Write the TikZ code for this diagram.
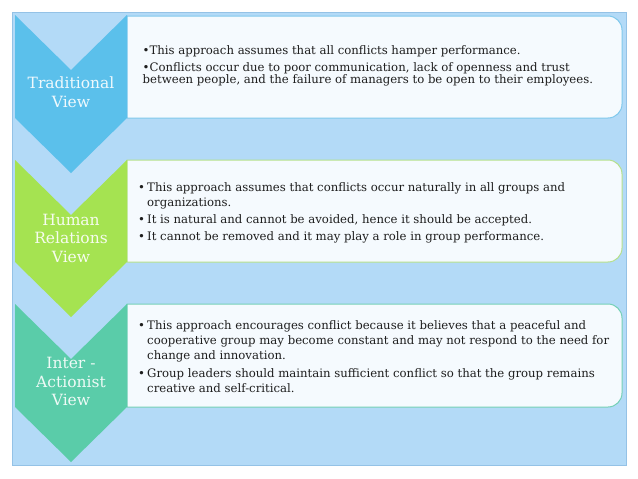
\documentclass[tikz,border=0pt]{standalone}
\usepackage{fontspec}
\setmainfont{DejaVu Serif}
\definecolor{panel}{HTML}{B3DAF7}
\definecolor{panelline}{HTML}{94C2E6}
\definecolor{cblue}{HTML}{5BC0EB}
\definecolor{cgreen}{HTML}{A5E351}
\definecolor{cteal}{HTML}{5ACCA9}
\definecolor{bblue}{HTML}{7FC8EC}
\definecolor{bgreen}{HTML}{B5E08C}
\definecolor{bteal}{HTML}{74D0B6}
\definecolor{boxfill}{HTML}{F5FAFE}
\definecolor{txt}{HTML}{1E1E1E}
\tikzset{
  chev/.style={fill=#1, draw=none},
  tbox/.style={fill=boxfill, draw=#1, line width=1pt},
  lab/.style={text=white!90!#1, font=\fontsize{15.5}{18.5}\selectfont, align=center, inner sep=0pt, anchor=north},
  body/.style={text=txt, align=left, inner sep=0pt, anchor=north west},
}
\newcommand\bul{\makebox[9pt][l]{•}}
\newcommand\ind{\hspace*{9pt}}
\begin{document}
\begin{tikzpicture}[x=1pt,y=-1pt]
\useasboundingbox (0,0) rectangle (638,479);
\fill[white] (0,0) rectangle (638,479);
\draw[panelline, fill=panel] (12,12) rectangle (626,465);

% text boxes
\draw[tbox=bblue] (127,16) -- (608,16) arc[start angle=-90,end angle=0,radius=14] -- (622,104) arc[start angle=0,end angle=90,radius=14] -- (127,118) -- cycle;
\draw[tbox=bgreen] (127,160) -- (608,160) arc[start angle=-90,end angle=0,radius=14] -- (622,248) arc[start angle=0,end angle=90,radius=14] -- (127,262) -- cycle;
\draw[tbox=bteal] (127,304) -- (608,304) arc[start angle=-90,end angle=0,radius=14] -- (622,393) arc[start angle=0,end angle=90,radius=14] -- (127,407) -- cycle;

% chevrons
\fill[chev=cblue] (15,15) -- (71,70) -- (127,15) -- (127,118) -- (71,173) -- (15,118) -- cycle;
\fill[chev=cgreen] (15,160) -- (71,215) -- (127,160) -- (127,262) -- (71,317) -- (15,262) -- cycle;
\fill[chev=cteal] (15,304) -- (71,359) -- (127,304) -- (127,407) -- (71,462) -- (15,407) -- cycle;

% labels
\node[lab=cblue] (l1) at (71,77) {Traditional\\View};
\node[lab=cgreen] (l2) at (71,213.7) {Human\\Relations\\View};
\node[lab=cteal] (l3) at (71,357) {Inter -\\Actionist\\View};

% body texts
\node[body, font=\fontsize{11.7}{12}\selectfont] (t1) at (142.5,45.1)
 {•This approach assumes that all conflicts hamper performance.\\[5.5pt]
  •Conflicts occur due to poor communication, lack of openness and trust\\
  between people, and the failure of managers to be open to their employees.};
\node[body, font=\fontsize{11.7}{15}\selectfont] (t2) at (138,182.6)
 {\bul This approach assumes that conflicts occur naturally in all groups and\\
  \ind organizations.\\[2pt]
  \bul It is natural and cannot be avoided, hence it should be accepted.\\[1.5pt]
  \bul It cannot be removed and it may play a role in group performance.};
\node[body, font=\fontsize{11.7}{15}\selectfont] (t3) at (138,320.6)
 {\bul This approach encourages conflict because it believes that a peaceful and\\
  \ind cooperative group may become constant and may not respond to the need for\\
  \ind change and innovation.\\[3pt]
  \bul Group leaders should maintain sufficient conflict so that the group remains\\
  \ind creative and self-critical.};
\end{tikzpicture}
\end{document}
